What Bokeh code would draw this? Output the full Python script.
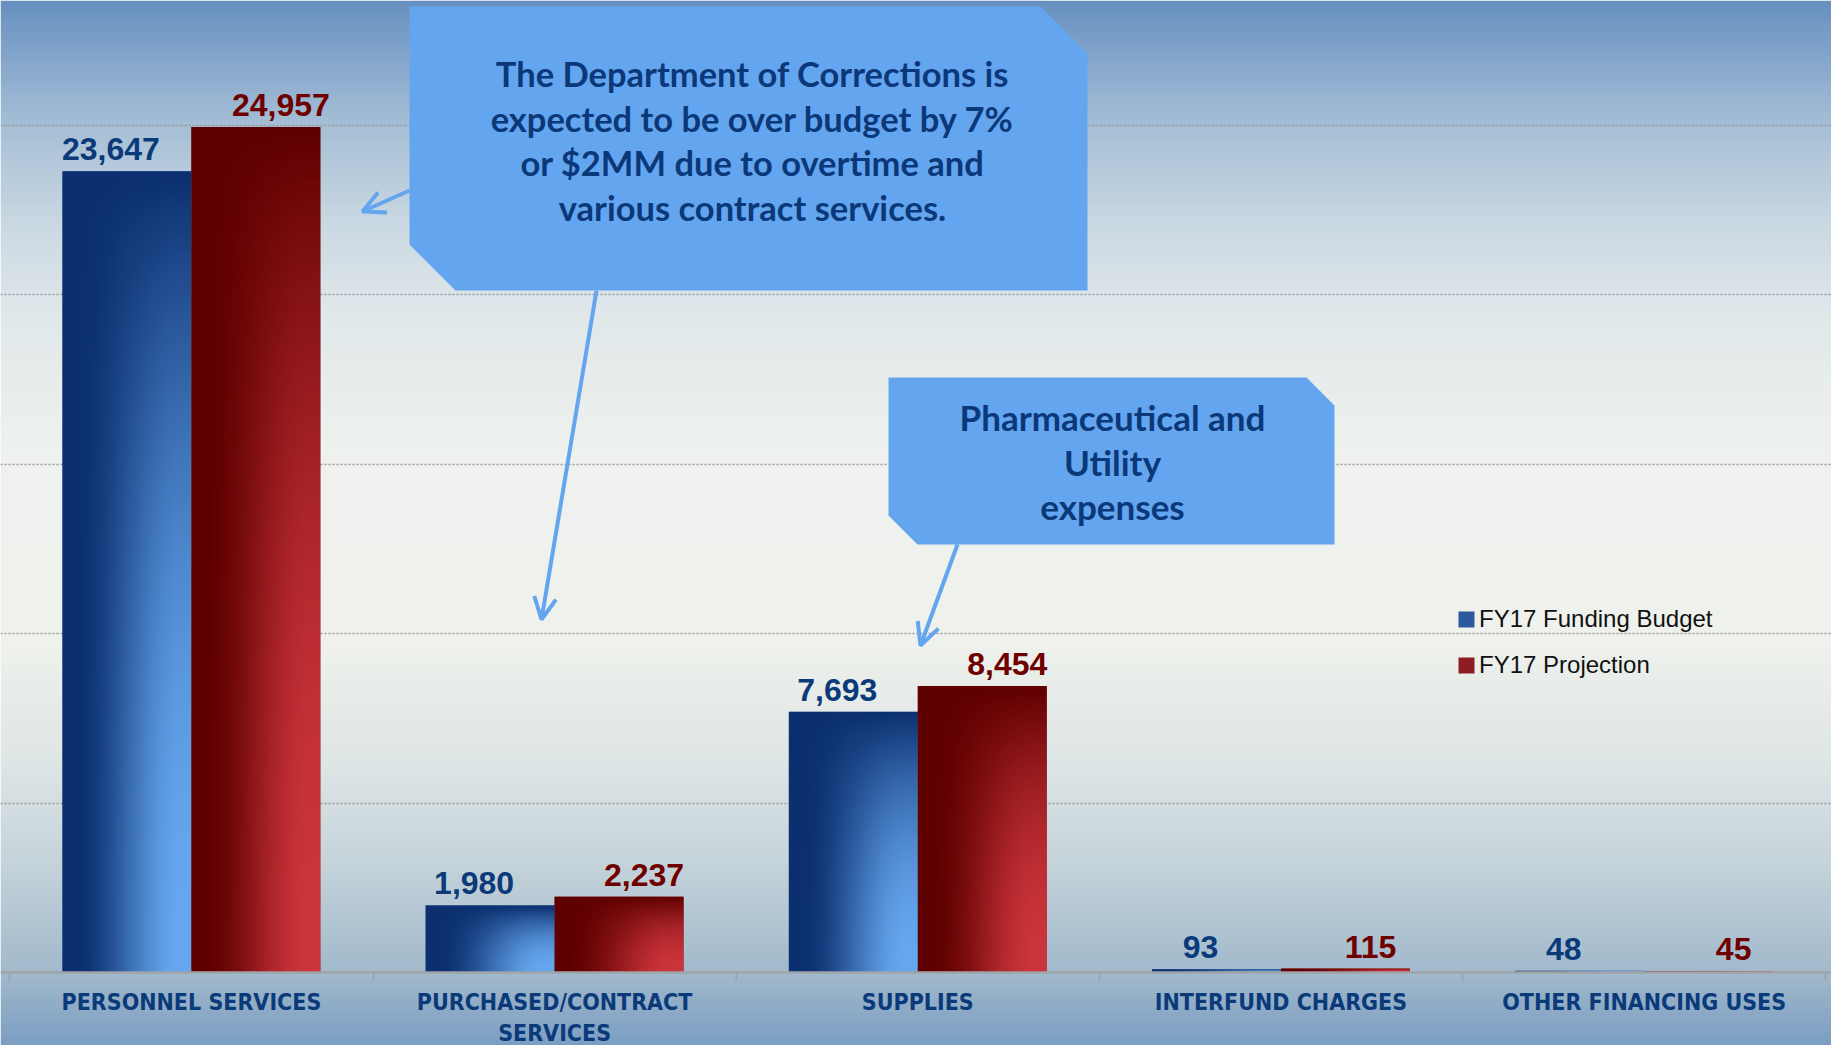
import numpy as np
from bokeh.plotting import figure
from bokeh.models import (FixedTicker, Arrow, OpenHead, Legend, LegendItem,
                          ColumnDataSource, Range1d)
from bokeh.core.properties import value
from bokeh.embed import file_html
from bokeh.resources import INLINE

# ---------------- data ----------------
categories = ["PERSONNEL SERVICES", "PURCHASED/CONTRACT\nSERVICES", "SUPPLIES",
              "INTERFUND CHARGES", "OTHER FINANCING USES"]
budget = [23647, 1980, 7693, 93, 48]
projection = [24957, 2237, 8454, 115, 45]
series_names = ["FY17 Funding Budget", "FY17 Projection"]
grid_ticks = [5000, 10000, 15000, 20000, 25000]

callout1_lines = ["The Department of Corrections is", "expected to be over budget by 7%",
                  "or $2MM due to overtime and", "various contract services."]
callout2_lines = ["Pharmaceutical and", "Utility", "expenses"]

# ---------------- layout helpers (reference pixel -> data) ----------------
W, H = 1831, 1045
OFF = 0
X0_PX, CAT_PX = 9.3, 363.2
Y0_PX, UNIT_PX = 972.0, 847.0 / 25000.0


def dx(px):
    return (px - X0_PX) / CAT_PX


def dy(py):
    return (Y0_PX - py) / UNIT_PX


p = figure(width=W, height=H, output_backend="svg", toolbar_location=None,
           x_range=Range1d(dx(OFF), dx(OFF + W)), y_range=Range1d(dy(OFF + H), dy(OFF)),
           min_border=0, outline_line_color=None)
p.title.visible = False
p.yaxis.visible = False
p.xgrid.visible = False

# ---------------- background gradient ----------------
stop_px = [0, 60, 125, 220, 320, 450, 650, 760, 860, 972, 1000, 1045]
stop_col = ["#6790bf", "#86a7cc", "#a6bfd6", "#c9d8e2", "#e2e9eb", "#eef2ee",
            "#eef1ec", "#dfe6e6", "#c6d4db", "#a2bacc", "#93afc8", "#7b9ec2"]
rgb = np.array([[int(c[i:i + 2], 16) for i in (1, 3, 5)] for c in stop_col], dtype=float)
row_px = OFF + H - 0.5 - np.arange(H)
bg = np.empty((H, 2), dtype=np.uint32)
bgv = bg.view(dtype=np.uint8).reshape((H, 2, 4))
for k in range(3):
    bgv[:, :, k] = np.interp(row_px, stop_px, rgb[:, k])[:, None]
bgv[:, :, 3] = 255
p.image_rgba(image=[bg], x=dx(OFF), y=dy(OFF + H), dw=dx(OFF + W) - dx(OFF),
             dh=dy(OFF) - dy(OFF + H), level="image")

# ---------------- grid ----------------
p.ygrid.ticker = FixedTicker(ticks=grid_ticks)
p.ygrid.grid_line_color = "#9a9c9c"
p.ygrid.grid_line_dash = "2 2"
p.ygrid.grid_line_width = 1.5

# ---------------- bars ----------------
n = len(categories)
xc = np.arange(n) + 0.5
BW = 0.355

src_b = ColumnDataSource(dict(x=xc - BW / 2, top=budget, label=[f"{v:,}" for v in budget]))
src_r = ColumnDataSource(dict(x=xc + BW / 2, top=projection, label=[f"{v:,}" for v in projection]))

rb = p.vbar(x="x", top="top", bottom=0, width=BW, source=src_b,
            fill_color="#2c5a9e", line_color=None)
rr = p.vbar(x="x", top="top", bottom=0, width=BW, source=src_r,
            fill_color="#8e1b20", line_color=None)


def grad_img(dark, light, nx=80, ny=160):
    d = np.array([int(dark[i:i + 2], 16) for i in (1, 3, 5)], dtype=float)
    l = np.array([int(light[i:i + 2], 16) for i in (1, 3, 5)], dtype=float)
    u = np.linspace(0, 1, nx)[None, :]
    v = np.linspace(1, 0, ny)[:, None]  # row 0 is bottom -> v=1 (bottom)
    h = np.clip((u - 0.08) / 0.84, 0, 1)
    h = h * h * (3 - 2 * h)
    g = 1 - (1 - v) ** 2
    t = h * g
    img = np.empty((ny, nx), dtype=np.uint32)
    iv = img.view(dtype=np.uint8).reshape((ny, nx, 4))
    for k in range(3):
        iv[:, :, k] = d[k] + (l[k] - d[k]) * t
    iv[:, :, 3] = 255
    return img


gb = grad_img("#0b2f6f", "#66a8f0")
gr = grad_img("#5f0000", "#cc353b")
p.image_rgba(image=[gb] * n, x=list(xc - BW), y=[0] * n, dw=[BW] * n, dh=budget)
p.image_rgba(image=[gr] * n, x=list(xc), y=[0] * n, dw=[BW] * n, dh=projection)

# ---------------- value labels ----------------
p.text(x="x", y="top", text="label", source=src_b, text_font=value("Liberation Sans"),
       text_font_style="bold", text_font_size="32px", text_color="#0b3a7a",
       text_align="center", text_baseline="alphabetic", x_offset=-16, y_offset=-22,
       level="annotation")
p.text(x="x", y="top", text="label", source=src_r, text_font=value("Liberation Sans"),
       text_font_style="bold", text_font_size="32px", text_color="#6e0000",
       text_align="center", text_baseline="alphabetic", x_offset=25, y_offset=-22,
       level="annotation")

# ---------------- x axis ----------------
ax = p.xaxis[0]
ax.fixed_location = 0
ax.ticker = FixedTicker(ticks=[float(v) for v in xc], minor_ticks=list(range(n + 1)))
ax.major_label_overrides = {float(x): c for x, c in zip(xc, categories)}
ax.major_label_text_font = "DejaVu Sans Condensed"
ax.major_label_text_font_style = "bold"
ax.major_label_text_font_size = "23px"
ax.major_label_text_color = "#0b3a7a"
ax.major_label_standoff = 8
ax.major_tick_out = 0
ax.major_tick_in = 0
ax.major_tick_line_color = None
ax.minor_tick_out = 8
ax.minor_tick_in = 0
ax.minor_tick_line_color = "#a0a4a8"
ax.minor_tick_line_width = 2
ax.axis_line_color = "#a0a4a8"
ax.axis_line_width = 2.5

# ---------------- callouts ----------------
box_fill = "#64a5f0"
box1_px = [(409, 6), (1040, 6), (1087, 53), (1087, 290), (455, 290), (409, 244)]
box2_px = [(888, 377), (1306, 377), (1334, 405), (1334, 544), (917, 544), (888, 515)]
for box in (box1_px, box2_px):
    p.patch([dx(a) for a, b in box], [dy(b) for a, b in box], fill_color=box_fill,
            line_color=None)

for (x0, y0, x1, y1) in [(409, 190, 362, 211), (596, 290, 541, 619), (957, 544, 920, 645)]:
    p.add_layout(Arrow(x_start=dx(x0), y_start=dy(y0), x_end=dx(x1), y_end=dy(y1),
                       line_color=box_fill, line_width=4,
                       end=OpenHead(size=22, line_width=4, line_color=box_fill)))

c1_base = [73, 117.7, 162.4, 207]
c2_base = [416, 461, 505]
p.text(x=[dx(752)] * len(callout1_lines), y=[dy(b) for b in c1_base], text=callout1_lines,
       text_font=value("Lato"), text_font_style="bold", text_font_size="34.5px",
       text_color="#0a3878", text_align="center", text_baseline="alphabetic")
p.text(x=[dx(1112)] * len(callout2_lines), y=[dy(b) for b in c2_base], text=callout2_lines,
       text_font=value("Lato"), text_font_style="bold", text_font_size="35px",
       text_color="#0a3878", text_align="center", text_baseline="alphabetic")

# ---------------- legend ----------------
legend = Legend(items=[LegendItem(label=series_names[0], renderers=[rb]),
                       LegendItem(label=series_names[1], renderers=[rr])],
                location=(1456, 366), orientation="vertical",
                background_fill_alpha=0, border_line_color=None,
                label_text_font="Liberation Sans", label_text_font_size="24px",
                label_text_color="#111111", glyph_width=20, glyph_height=20,
                label_height=27, spacing=18, padding=0, margin=0, label_standoff=3)
p.add_layout(legend)

open("out.html", "w").write(file_html(p, INLINE))
